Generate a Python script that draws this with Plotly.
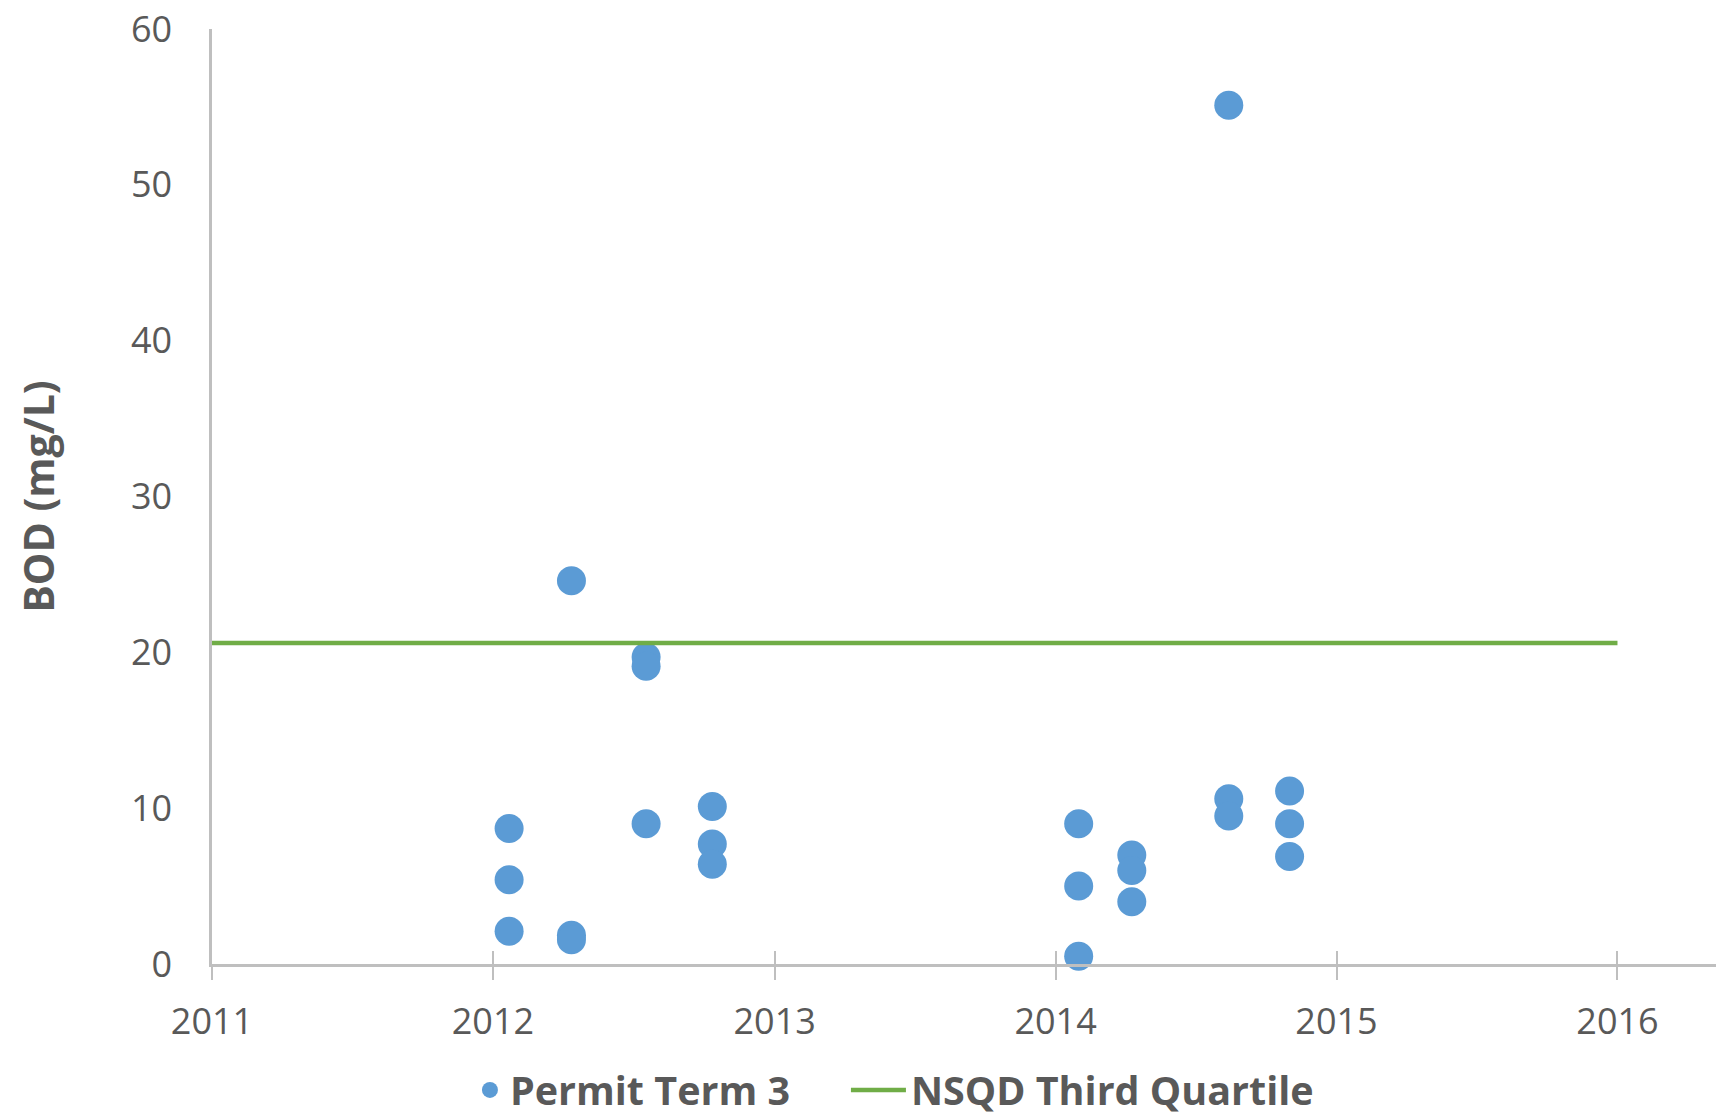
import plotly.graph_objects as go

# BOD sampling results, Permit Term 3 (three samples per event)
sample_dates = [
    "2012-01-22", "2012-01-22", "2012-01-22",
    "2012-04-12", "2012-04-12", "2012-04-12",
    "2012-07-18", "2012-07-18", "2012-07-18",
    "2012-10-12", "2012-10-12", "2012-10-12",
    "2014-01-31", "2014-01-31", "2014-01-31",
    "2014-04-10", "2014-04-10", "2014-04-10",
    "2014-08-14", "2014-08-14", "2014-08-14",
    "2014-11-01", "2014-11-01", "2014-11-01",
]
bod_values = [
    8.7, 5.4, 2.1,
    24.6, 1.85, 1.55,
    19.7, 19.1, 9.0,
    10.1, 7.7, 6.4,
    9.0, 5.0, 0.5,
    7.0, 6.0, 4.0,
    55.1, 10.6, 9.5,
    11.1, 9.0, 6.9,
]

# NSQD third-quartile reference level
nsqd_dates = ["2011-01-01", "2016-01-01"]
nsqd_values = [20.6, 20.6]

year_ticks = ["2011-01-01", "2012-01-01", "2013-01-01", "2014-01-01", "2015-01-01", "2016-01-01"]
year_labels = ["2011", "2012", "2013", "2014", "2015", "2016"]

TEXT = "#595959"
AXIS = "#BFBFBF"
FONT = "Open Sans"

fig = go.Figure()
fig.add_trace(go.Scatter(
    x=sample_dates, y=bod_values, mode="markers", name="Permit Term 3",
    marker=dict(size=29, color="#5B9BD5"), cliponaxis=False, legend="legend",
))
fig.add_trace(go.Scatter(
    x=nsqd_dates, y=nsqd_values, mode="lines", name="NSQD Third Quartile",
    line=dict(color="#70AD47", width=4.5), legend="legend2",
))
# invisible trace on a twin x-axis so tick marks also point inward
fig.add_trace(go.Scatter(x=nsqd_dates, y=nsqd_values, xaxis="x2", mode="lines",
                         line=dict(width=0), showlegend=False, hoverinfo="skip"))

x_range = ["2011-01-01", "2016-05-08"]
legend_font = dict(family=FONT, size=39.5, color=TEXT, weight="bold")

fig.update_layout(
    width=1716, height=1120,
    margin=dict(l=212, r=0, t=29, b=156, autoexpand=False),
    paper_bgcolor="white", plot_bgcolor="white",
    font=dict(family=FONT, color=TEXT, size=36),
    showlegend=True,
    legend=dict(
        orientation="h", x=0.1715, xanchor="left", y=-0.135, yanchor="middle",
        font=legend_font, itemsizing="trace",
    ),
    legend2=dict(
        orientation="h", x=0.4215, xanchor="left", y=-0.135, yanchor="middle",
        font=legend_font, itemwidth=55,
    ),
    xaxis=dict(
        type="date", range=x_range, tickvals=year_ticks, ticktext=year_labels,
        showgrid=False, zeroline=False,
        showline=True, linecolor=AXIS, linewidth=2.5,
        ticks="outside", ticklen=13, tickwidth=2, tickcolor=AXIS,
        tickfont=dict(size=36, color=TEXT), ticklabelstandoff=11,
    ),
    xaxis2=dict(
        type="date", range=x_range, tickvals=year_ticks, overlaying="x",
        side="bottom", showticklabels=False, showgrid=False, zeroline=False,
        showline=False, ticks="inside", ticklen=13, tickwidth=2, tickcolor=AXIS,
    ),
    yaxis=dict(
        range=[0, 60], tickvals=[0, 10, 20, 30, 40, 50, 60],
        showgrid=False, zeroline=False,
        showline=True, linecolor=AXIS, linewidth=2.5, ticks="",
        tickfont=dict(size=36, color=TEXT), ticklabelstandoff=30,
        title=dict(text="BOD (mg/L)", standoff=64,
                   font=dict(family=FONT, size=41, color=TEXT, weight="bold")),
    ),
)

fig.write_html("out.html")
